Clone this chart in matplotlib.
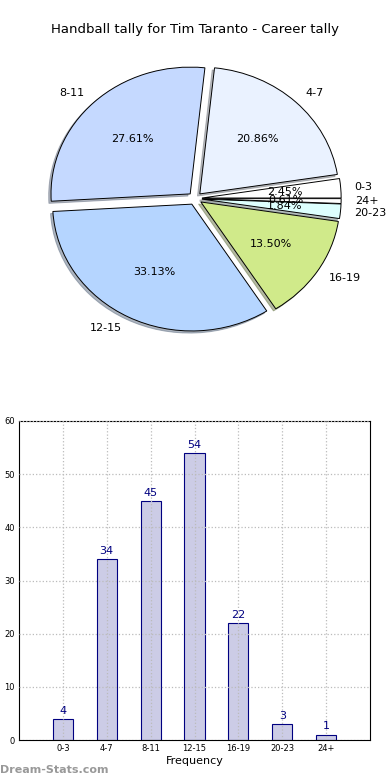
import matplotlib
matplotlib.use('Agg')
import matplotlib.pyplot as plt
import numpy as np

categories = ['0-3', '4-7', '8-11', '12-15', '16-19', '20-23', '24+']
counts = [4, 34, 45, 54, 22, 3, 1]
pie_colors = ['#ffffff', '#eaf2ff', '#c5d9ff', '#b5d5ff', '#d0ea8a', '#ddfffe', '#ffffff']

fig = plt.figure(figsize=(3.9, 7.8), dpi=100)

# pie on top
ax1 = fig.add_axes([21/390, 1 - 357/780, 348/390, 317/780])
wedges, texts, autotexts = ax1.pie(
    counts, labels=categories, colors=pie_colors, explode=[0.05]*len(counts),
    autopct='%1.2f%%', pctdistance=0.6, labeldistance=1.1,
    shadow={'ox': -0.012, 'oy': -0.012, 'shade': 0.5},
    startangle=0, counterclock=True,
    wedgeprops=dict(edgecolor='black', linewidth=0.7),
    textprops=dict(fontsize=8))
ax1.set_aspect('auto')
ax1.set_xlim(-1.25, 1.25)
ax1.set_ylim(-1.25, 1.25)
fig.text(0.5, 1 - 30/780, 'Handball tally for Tim Taranto - Career tally',
         ha='center', va='center', fontsize=9.5)

# bar chart below
ax2 = fig.add_axes([19/390, 1 - 740/780, 351/390, 319/780])
x = np.arange(len(categories))
bars = ax2.bar(x, counts, width=0.46, color='#ccccE6', edgecolor='#000080', linewidth=0.8)
for xi, v in zip(x, counts):
    ax2.text(xi, v + 0.6, str(v), ha='center', va='bottom', fontsize=8, color='#000080')
ax2.set_xlim(-1, 7)
ax2.set_ylim(0, 60)
ax2.set_xticks(x)
ax2.set_xticklabels(categories, fontsize=6)
ax2.set_yticks(range(0, 61, 10))
ax2.tick_params(axis='y', labelsize=6)
ax2.tick_params(length=0, pad=3)
ax2.grid(True, linestyle=':', color='#bbbbbb', linewidth=0.9)
ax2.set_axisbelow(False)
ax2.set_xlabel('Frequency', fontsize=8, labelpad=2)

fig.text(0/390, 1 - 770/780, 'Dream-Stats.com', ha='left', va='center',
         fontsize=8, color='#999999', fontweight='bold')

fig.savefig('out.png', dpi=100)
